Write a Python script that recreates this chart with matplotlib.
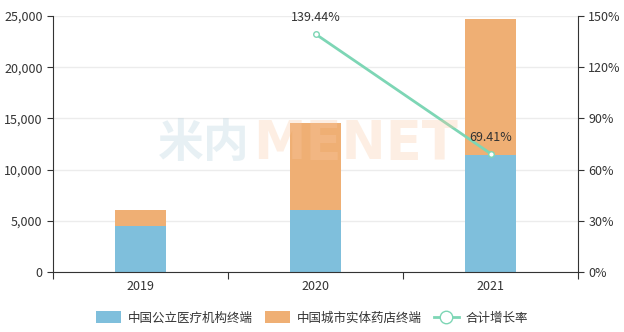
import matplotlib
matplotlib.use("Agg")
import matplotlib.pyplot as plt
from matplotlib.lines import Line2D
from matplotlib.patches import Patch
from matplotlib.ticker import FuncFormatter

plt.rcParams['font.family'] = ['Noto Sans CJK SC', 'DejaVu Sans']

years = ['2019', '2020', '2021']
public_hosp = [4520, 6020, 11400]
retail_pharm = [1580, 8560, 13300]
growth_years = ['2020', '2021']
growth = [139.44, 69.41]
series_names = ['中国公立医疗机构终端', '中国城市实体药店终端', '合计增长率']

c_blue = '#7fbfdc'
c_orange = '#efaf74'
c_green = '#7dd6b5'
c_text = '#333333'

fig = plt.figure(figsize=(6.24, 3.32), dpi=100)
ax = fig.add_axes([53/624, 60/332, 525/624, 256/332])
x = list(range(len(years)))
w = 0.286
ax.bar(x, public_hosp, width=w, color=c_blue, zorder=2, edgecolor='none')
ax.bar(x, retail_pharm, width=w, bottom=public_hosp, color=c_orange, zorder=2, edgecolor='none')
ax.set_xlim(-0.5, 2.5)
ax.set_ylim(0, 25000)
ax.set_yticks(range(0, 25001, 5000))
ax.yaxis.set_major_formatter(FuncFormatter(lambda v, p: f'{int(v):,}'))
ax.set_xticks([-0.5, 0.5, 1.5, 2.5])
ax.set_xticklabels([])
ax.set_xticks(x, minor=True)
ax.set_xticklabels(years, minor=True)
ax.tick_params(axis='x', which='minor', length=0, pad=6, labelsize=9, labelcolor=c_text)
ax.tick_params(axis='x', which='major', length=5, color='#333333')
ax.tick_params(axis='y', length=4, labelsize=9, labelcolor=c_text, color='#333333')
ax.grid(axis='y', color='#ececec', linewidth=1, zorder=0)
for s in ['top', 'right']:
    ax.spines[s].set_visible(False)
for s in ['left', 'bottom']:
    ax.spines[s].set_color('#333333')

ax2 = ax.twinx()
ax2.set_ylim(0, 150)
ax2.set_yticks(range(0, 151, 30))
ax2.yaxis.set_major_formatter(FuncFormatter(lambda v, p: f'{int(v)}%'))
ax2.tick_params(axis='y', length=4, labelsize=9, labelcolor=c_text, color='#333333')
for s in ['top', 'left', 'bottom']:
    ax2.spines[s].set_visible(False)
ax2.spines['right'].set_color('#333333')
gx = [years.index(y) for y in growth_years]
ax2.plot(gx, growth, color=c_green, linewidth=2, marker='o', markersize=4,
         markerfacecolor='white', markeredgecolor=c_green, markeredgewidth=1, zorder=5)
for xi, v in zip(gx, growth):
    ax2.annotate(f'{v:.2f}%', (xi, v), xytext=(0, 7), textcoords='offset points',
                 ha='center', va='bottom', fontsize=9, color=c_text, zorder=6)

# watermark
fig.text(250/624, 1 - 144/332, '米内', fontsize=33, fontweight='heavy', color='#bcd5e0',
         alpha=0.35, ha='right', va='center', zorder=10)
fig.text(253/624, 1 - 144/332, 'MENET', fontsize=38, fontweight='bold', color='#f9c9a3',
         alpha=0.3, ha='left', va='center', zorder=10, family='DejaVu Sans')

handles = [Patch(facecolor=c_blue, edgecolor='none'),
           Patch(facecolor=c_orange, edgecolor='none'),
           Line2D([0], [0], color=c_green, linewidth=2, marker='o', markersize=9,
                  markerfacecolor='white', markeredgecolor=c_green)]
fig.legend(handles, series_names, loc='center', bbox_to_anchor=(0.5, 1 - 318/332), ncol=3,
           frameon=False, fontsize=9, handlelength=2.0, handleheight=1.1,
           columnspacing=1.0, handletextpad=0.5, labelcolor=c_text)

fig.savefig('out.png', dpi=100)
